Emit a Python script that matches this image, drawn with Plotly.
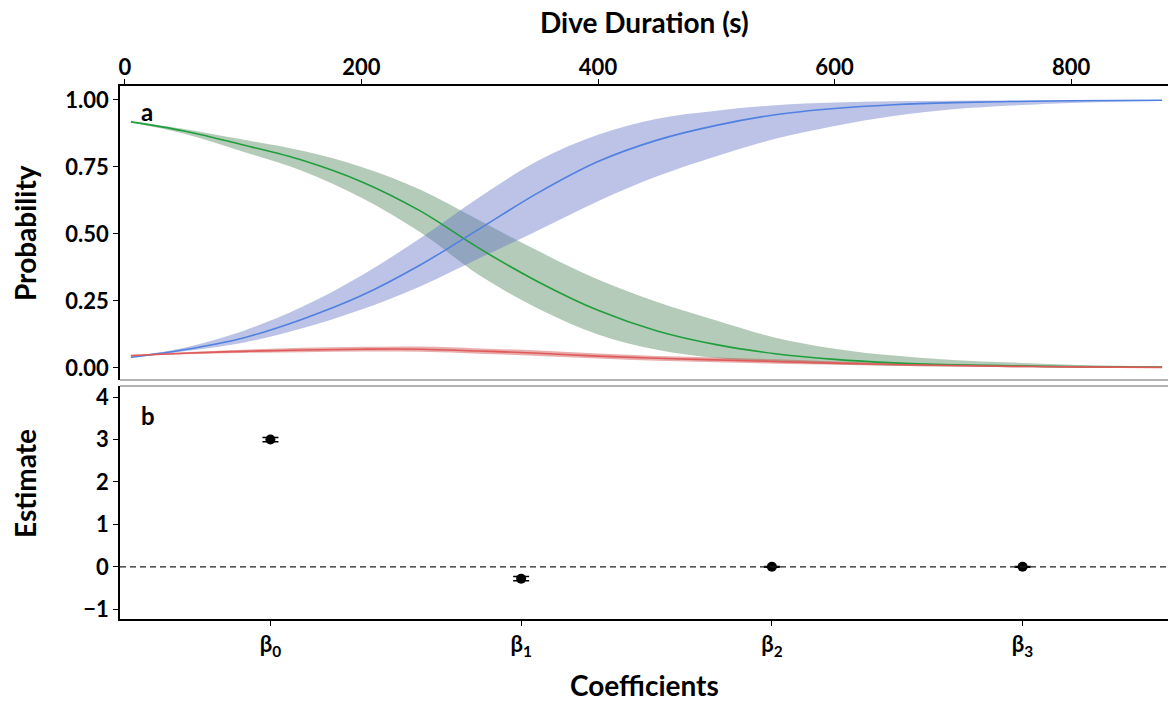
import plotly.graph_objects as go

# Dive duration grid (s)
duration = [5, 50, 100, 150, 200, 250, 300, 350, 400, 450, 500, 550, 600, 650, 700, 750, 800, 877]

# Predicted probabilities with confidence bands
blue_mid = [0.040, 0.068, 0.112, 0.182, 0.270, 0.385, 0.520, 0.655, 0.770, 0.850, 0.905, 0.945, 0.968, 0.982, 0.990, 0.994, 0.997, 0.999]
blue_lo = [0.038, 0.062, 0.094, 0.148, 0.218, 0.305, 0.410, 0.515, 0.622, 0.715, 0.790, 0.855, 0.903, 0.940, 0.965, 0.979, 0.989, 0.996]
blue_hi = [0.042, 0.075, 0.138, 0.228, 0.345, 0.485, 0.638, 0.775, 0.870, 0.930, 0.960, 0.980, 0.990, 0.995, 0.997, 0.998, 0.999, 1.000]

green_mid = [0.918, 0.884, 0.832, 0.775, 0.695, 0.585, 0.445, 0.320, 0.215, 0.138, 0.087, 0.053, 0.032, 0.019, 0.012, 0.008, 0.005, 0.003]
green_lo = [0.916, 0.874, 0.807, 0.735, 0.635, 0.505, 0.345, 0.220, 0.125, 0.068, 0.037, 0.021, 0.014, 0.008, 0.005, 0.003, 0.002, 0.0015]
green_hi = [0.920, 0.892, 0.852, 0.810, 0.750, 0.665, 0.550, 0.435, 0.330, 0.246, 0.177, 0.113, 0.072, 0.046, 0.030, 0.020, 0.012, 0.005]

red_mid = [0.046, 0.055, 0.062, 0.067, 0.070, 0.070, 0.063, 0.055, 0.044, 0.036, 0.030, 0.024, 0.018, 0.013, 0.009, 0.006, 0.004, 0.002]
red_lo = [0.044, 0.051, 0.056, 0.059, 0.061, 0.060, 0.053, 0.045, 0.035, 0.027, 0.021, 0.016, 0.012, 0.008, 0.005, 0.003, 0.002, 0.001]
red_hi = [0.048, 0.059, 0.068, 0.075, 0.079, 0.080, 0.073, 0.065, 0.054, 0.045, 0.039, 0.032, 0.024, 0.018, 0.013, 0.009, 0.006, 0.003]

# Coefficient estimates with standard errors
coef_labels = ["β<sub>0</sub>", "β<sub>1</sub>", "β<sub>2</sub>", "β<sub>3</sub>"]
coef_est = [3.00, -0.28, 0.00, 0.00]
coef_err = [0.05, 0.05, 0.01, 0.01]

x_ticks_top = [0, 200, 400, 600, 800]
y_ticks_top = [0, 0.25, 0.5, 0.75, 1.0]
y_ticklabels_top = ["0.00", "0.25", "0.50", "0.75", "1.00"]
y_ticks_bottom = [-1, 0, 1, 2, 3, 4]

FONT = "Lato"

series = [
    (green_lo, green_mid, green_hi, "rgba(46,110,60,0.36)", "#1f9e3c"),
    (blue_lo, blue_mid, blue_hi, "rgba(100,115,200,0.43)", "#5080e0"),
    (red_lo, red_mid, red_hi, "rgba(200,60,60,0.42)", "#e05a5a"),
]

fig = go.Figure()

# confidence ribbons
for lo, mid, hi, fill, line in series:
    fig.add_trace(go.Scatter(x=duration, y=lo, mode="lines", line=dict(width=0, shape="spline", smoothing=1.0),
                             hoverinfo="skip", showlegend=False, xaxis="x", yaxis="y"))
    fig.add_trace(go.Scatter(x=duration, y=hi, mode="lines", line=dict(width=0, shape="spline", smoothing=1.0),
                             fill="tonexty", fillcolor=fill, hoverinfo="skip", showlegend=False,
                             xaxis="x", yaxis="y"))

# fitted curves
for lo, mid, hi, fill, line in series:
    fig.add_trace(go.Scatter(x=duration, y=mid, mode="lines",
                             line=dict(width=1.6, color=line, shape="spline", smoothing=1.0),
                             showlegend=False, xaxis="x", yaxis="y"))

# coefficient estimates
fig.add_trace(go.Scatter(
    x=coef_labels, y=coef_est, mode="markers",
    marker=dict(size=10, color="black"),
    error_y=dict(type="data", array=coef_err, color="black", thickness=1.5, width=8),
    showlegend=False, xaxis="x2", yaxis="y2"))

axis_font = dict(family=FONT, size=22, color="black", weight="bold")

fig.update_layout(
    width=1169, height=702,
    margin=dict(l=120, r=1, t=86, b=83),
    paper_bgcolor="white", plot_bgcolor="white",
    font=dict(family=FONT, color="black"),
    xaxis=dict(domain=[0, 1], anchor="y", side="top", range=[-4.2, 882],
               tickvals=x_ticks_top, ticks="outside", ticklen=5, tickcolor="black",
               tickfont=axis_font, ticklabelstandoff=-5, showline=True, linecolor="black",
               linewidth=1.5, showgrid=False, zeroline=False),
    yaxis=dict(domain=[0.4484, 1], anchor="x", range=[-0.045, 1.052],
               tickvals=y_ticks_top, ticktext=y_ticklabels_top, ticks="outside", ticklen=5,
               tickcolor="black", tickfont=axis_font, showline=True, linecolor="black",
               linewidth=1.5, showgrid=False, zeroline=False),
    xaxis2=dict(domain=[0, 1], anchor="y2", type="category", range=[-0.6, 3.58],
                categoryorder="array", categoryarray=coef_labels,
                ticks="outside", ticklen=5, tickcolor="black", tickfont=axis_font,
                showline=True, linecolor="black", linewidth=1.5, showgrid=False),
    yaxis2=dict(domain=[0, 0.437], anchor="x2", range=[-1.23, 4.26],
                tickvals=y_ticks_bottom, ticks="outside", ticklen=5, tickcolor="black",
                tickfont=axis_font, showline=True, linecolor="black", linewidth=1.5,
                showgrid=False, zeroline=False),
)

# zero reference line
fig.add_shape(type="line", xref="x2 domain", yref="y2", x0=0, x1=1, y0=0, y1=0,
              line=dict(color="#222222", width=1.3, dash="6px,4px"))

# light panel borders between the two panels
fig.add_shape(type="line", xref="x domain", yref="y domain", x0=0, x1=1, y0=0, y1=0,
              line=dict(color="#9a9a9a", width=1.5))
fig.add_shape(type="line", xref="x2 domain", yref="y2 domain", x0=0, x1=1, y0=1, y1=1,
              line=dict(color="#9a9a9a", width=1.5))

title_font = dict(family=FONT, size=28, color="black", weight="bold")
tag_font = dict(family=FONT, size=24, color="black", weight="bold")

fig.add_annotation(text="Dive Duration (s)", xref="paper", yref="paper", x=0.5, y=1,
                   yshift=64, xanchor="center", yanchor="middle", showarrow=False, font=title_font)
fig.add_annotation(text="Coefficients", xref="paper", yref="paper", x=0.5, y=0,
                   yshift=-66, xanchor="center", yanchor="middle", showarrow=False, font=title_font)
fig.add_annotation(text="Probability", xref="paper", yref="y domain", x=0, y=0.5,
                   xshift=-95, textangle=-90, xanchor="center", yanchor="middle",
                   showarrow=False, font=title_font)
fig.add_annotation(text="Estimate", xref="paper", yref="y2 domain", x=0, y=0.58,
                   xshift=-95, textangle=-90, xanchor="center", yanchor="middle",
                   showarrow=False, font=title_font)
fig.add_annotation(text="a", xref="x domain", yref="y domain", x=0, y=1,
                   xshift=19, yshift=-25, xanchor="left", yanchor="middle",
                   showarrow=False, font=tag_font)
fig.add_annotation(text="b", xref="x2 domain", yref="y2 domain", x=0, y=1,
                   xshift=19, yshift=-29, xanchor="left", yanchor="middle",
                   showarrow=False, font=tag_font)

fig.write_html("out.html")
